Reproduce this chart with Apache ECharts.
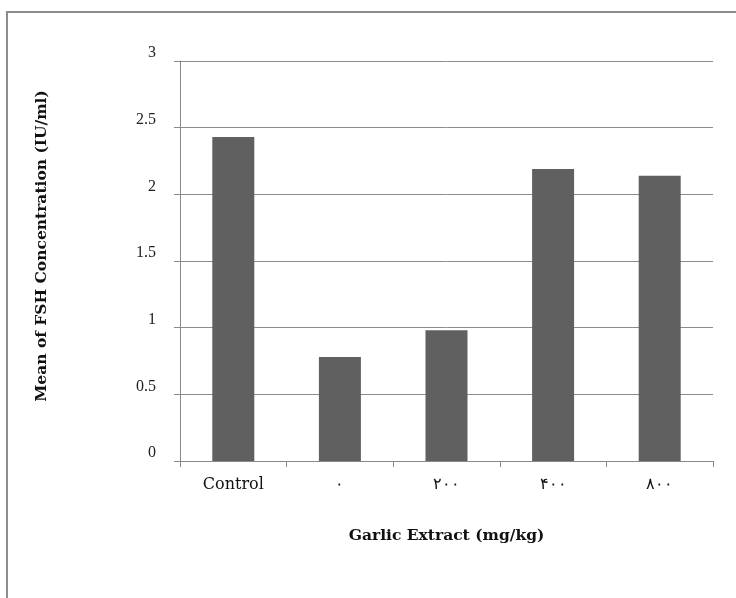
<!DOCTYPE html>
<html>
<head>
<meta charset="utf-8">
<script src="https://cdn.jsdelivr.net/npm/echarts@6/dist/echarts.min.js"></script>
<style>
  html, body { margin: 0; padding: 0; background: #fff; overflow: hidden; }
  #frame { position: absolute; left: 6px; top: 11px; width: 800px; height: 700px; border: 2px solid #8c8c8c; }
  #chart { position: absolute; left: 0; top: 0; width: 736px; height: 598px; }
</style>
</head>
<body>
<div id="frame"></div>
<div id="chart"></div>
<script>
// data
const categories = ['Control', '۰', '۲۰۰', '۴۰۰', '۸۰۰']
const fshMeans = [2.43, 0.78, 0.98, 2.19, 2.14]

const times = '"Liberation Serif", "DejaVu Serif", serif'
const wide = '"DejaVu Serif", "Liberation Serif", serif'

var chart = echarts.init(document.getElementById('chart'))
var option = {
  animation: false,
  grid: { left: 180, right: 23, top: 61, bottom: 137 },
  xAxis: {
    type: 'category',
    data: categories,
    name: 'Garlic Extract (mg/kg)',
    nameLocation: 'middle',
    nameGap: 67,
    nameTextStyle: { fontFamily: wide, fontWeight: 'bold', fontSize: 15.5, color: '#111' },
    axisLine: { lineStyle: { color: '#888', width: 1 } },
    axisTick: { show: true, length: 6, lineStyle: { color: '#888' } },
    axisLabel: { fontFamily: wide, fontSize: 16, color: '#111', margin: 16 }
  },
  yAxis: {
    type: 'value',
    min: 0,
    max: 3,
    interval: 0.5,
    name: 'Mean of FSH Concentration (IU/ml)',
    nameLocation: 'middle',
    nameGap: 130,
    nameTextStyle: { fontFamily: wide, fontWeight: 'bold', fontSize: 15.5, color: '#111', padding: [0, 0, 0, 30] },
    axisLine: { show: true, lineStyle: { color: '#888', width: 1 } },
    axisTick: { show: true, length: 6, lineStyle: { color: '#888' } },
    axisLabel: { fontFamily: times, fontSize: 16, color: '#222', margin: 24, verticalAlign: 'bottom', lineHeight: 16 },
    splitLine: { lineStyle: { color: '#8c8c8c', width: 1 } }
  },
  series: [{
    type: 'bar',
    data: fshMeans,
    barWidth: 42,
    itemStyle: { color: '#606060' }
  }]
}
chart.setOption(option)
</script>
</body>
</html>
